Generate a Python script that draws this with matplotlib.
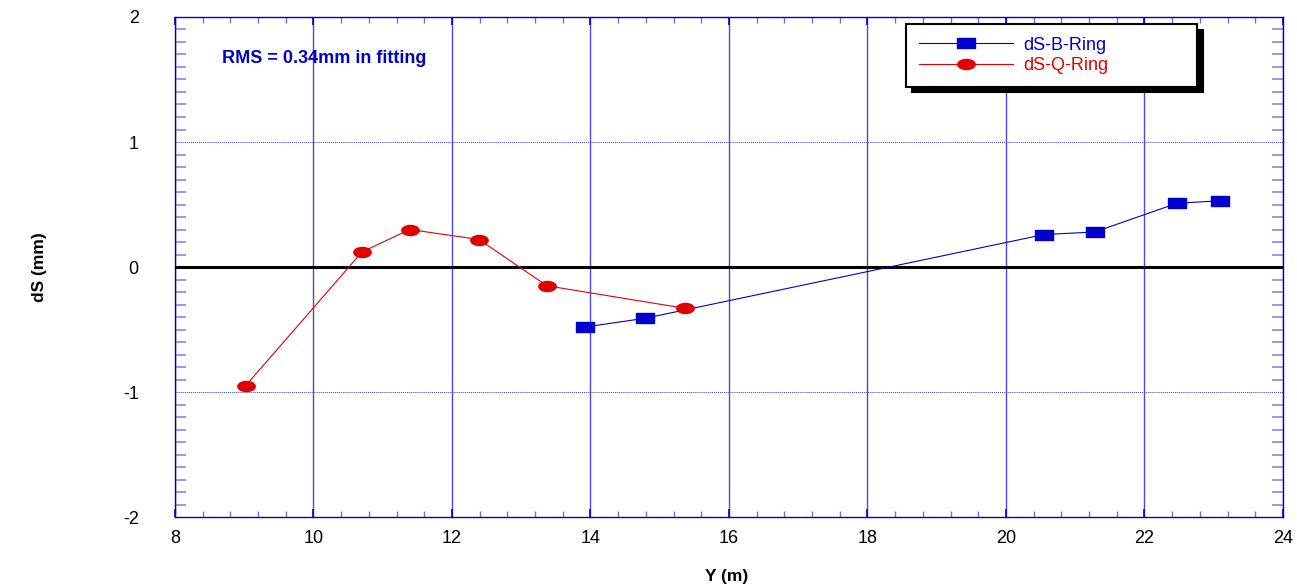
import matplotlib
matplotlib.use("Agg")
import matplotlib.pyplot as plt
import numpy as np
from matplotlib.path import Path
from matplotlib.ticker import MultipleLocator

plt.rcParams["font.family"] = ["Liberation Sans", "DejaVu Sans"]
plt.rcParams["axes.unicode_minus"] = False

# data
q_y = [9.02, 10.70, 11.39, 12.39, 13.37, 15.36]
q_ds = [-0.95, 0.12, 0.30, 0.22, -0.15, -0.33]
b_y = [13.92, 14.79, 20.55, 21.28, 22.47, 23.09]
b_ds = [-0.48, -0.41, 0.26, 0.28, 0.51, 0.53]
rms_note = "RMS = 0.34mm in fitting"

blue = "#0000cc"
red = "#e00000"

# wide markers like the original
rect = Path([(-1, -0.55), (1, -0.55), (1, 0.55), (-1, 0.55), (-1, -0.55)],
            [Path.MOVETO, Path.LINETO, Path.LINETO, Path.LINETO, Path.CLOSEPOLY])
circ = Path.unit_circle()
ell = Path(circ.vertices * np.array([1.0, 0.58]), circ.codes)

fig = plt.figure(figsize=(12.97, 5.88), dpi=100)
ax = fig.add_axes([0.1349, 0.1207, 0.8543, 0.8504])

ax.plot(b_y, b_ds, color=blue, lw=0.8, marker=rect, ms=12.5,
        mec=blue, mfc=blue, label="dS-B-Ring", zorder=4)
ax.plot(q_y, q_ds, color=red, lw=0.8, marker=ell, ms=12.5,
        mec=red, mfc=red, label="dS-Q-Ring", zorder=5)
ax.axhline(0, color="black", lw=2.2, zorder=3)

ax.set_xlim(8, 24)
ax.set_ylim(-2, 2)
ax.xaxis.set_major_locator(MultipleLocator(2))
ax.xaxis.set_minor_locator(MultipleLocator(0.4))
ax.yaxis.set_major_locator(MultipleLocator(1))
ax.yaxis.set_minor_locator(MultipleLocator(0.1))

ax.grid(True, axis="x", which="major", color="#4a4ae0", lw=1.0, ls="-", zorder=1)
ax.grid(True, axis="y", which="major", color="#3a3ad8", lw=0.7, ls=(0, (1, 1)), zorder=1)

for s in ax.spines.values():
    s.set_color(blue)
    s.set_linewidth(1.0)

ax.tick_params(axis="both", which="both", direction="in", colors=blue,
               labelcolor="black", labelsize=13)
ax.tick_params(axis="x", which="major", length=6, width=1.2, top=True, pad=9)
ax.tick_params(axis="x", which="minor", length=4, width=1, top=True, color="#7070e0")
ax.tick_params(axis="y", which="major", length=0, right=True, pad=26)
ax.tick_params(axis="y", which="minor", length=8, width=1.2, right=True, color="#8888e8")

ax.set_xlabel("Y (m)", fontsize=12.5, fontweight="bold")
ax.set_ylabel("dS (mm)", fontsize=12.5, fontweight="bold")
ax.xaxis.set_label_coords(0.498, -0.104)
ax.yaxis.set_label_coords(-0.1155, 0.5)

ax.text(8.68, 1.67, rms_note, color=blue, fontsize=13, fontweight="bold",
        va="center", ha="left", zorder=6)

leg = ax.legend(loc="upper left", bbox_to_anchor=(0.66, 0.866, 0.2625, 0.12),
                mode="expand", borderaxespad=0,
                fancybox=False, frameon=True, fontsize=13, handlelength=5.2,
                handletextpad=0.6, borderpad=0.7, labelspacing=0.2,
                shadow={"color": "black", "alpha": 1.0, "ox": 4, "oy": -4})
leg.get_frame().set_edgecolor("black")
leg.get_frame().set_linewidth(1.5)
for txt, c in zip(leg.get_texts(), [blue, red]):
    txt.set_color(c)
leg.set_zorder(10)

fig.savefig("out.png", dpi=100)
